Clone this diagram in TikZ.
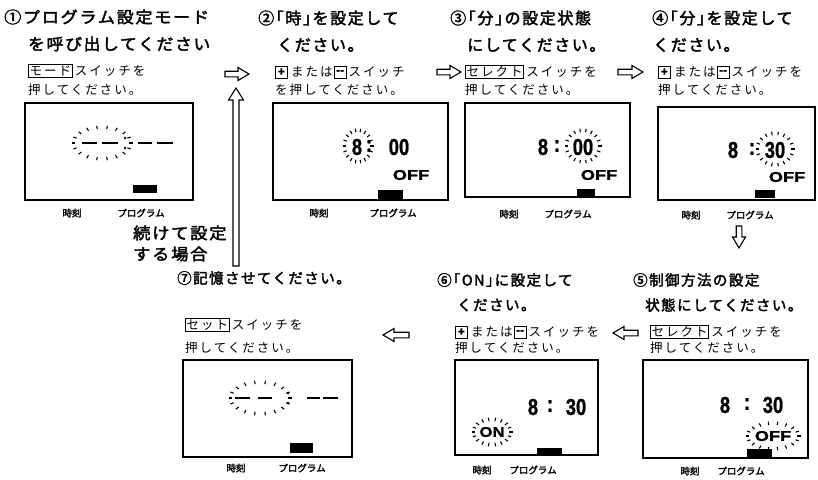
\documentclass[tikz,border=0pt]{standalone}
\usepackage{fontspec}
\usepackage{graphicx}
\usetikzlibrary{calc}
\newfontfamily\jpT[FakeBold=2.4,LetterSpace=10]{Noto Sans CJK JP}
\newfontfamily\jpS[LetterSpace=16]{Noto Sans CJK JP}
\newfontfamily\jpL[FakeBold=2.4]{Noto Sans CJK JP}
\newfontfamily\digF[FakeBold=1.2]{Liberation Sans}
\newcommand\titlefont{\jpT\fontsize{16}{18}\selectfont}
\newcommand\titlefontB{\jpT\fontsize{14.5}{16}\selectfont}
\newcommand\instrfont{\jpS\fontsize{12.5}{14}\selectfont}
\newcommand\labfont{\jpL\fontsize{9.5}{10}\selectfont}
\newcommand\digfont{\digF\bfseries\fontsize{23}{24}\selectfont}
\newcommand\offfont{\digF\bfseries\fontsize{14}{16}\selectfont}
\newcommand\dg[1]{\scalebox{0.8}[1]{#1}}
\newcommand\sparkring[4]{%
  \pgfmathsetmacro\rxo{#3+3.5}\pgfmathsetmacro\ryo{#4+3.5}%
  \foreach \a in {0,20,...,340}{\draw[spark] ($(#1,#2)+(\a:#3pt and #4pt)$) -- ($(#1,#2)+(\a:\rxo pt and \ryo pt)$);}}
\tikzset{
  title/.style={anchor=west, inner sep=0pt, font=\titlefont},
  titleB/.style={anchor=west, inner sep=0pt, font=\titlefontB},
  instr/.style={anchor=west, inner sep=0pt, font=\instrfont},
  kbox/.style={draw, line width=0.7pt, anchor=west, inner sep=1.2pt, font=\instrfont},
  pm/.style={draw, line width=0.8pt, anchor=west, inner sep=0pt, minimum size=12pt, font=\digF\bfseries\fontsize{12}{12}\selectfont},
  lab/.style={inner sep=0pt, font=\labfont},
  scr/.style={line width=1.4pt},
  bar/.style={fill=black, draw=none},
  digs/.style={inner sep=0pt, font=\digfont},
  offs/.style={inner sep=0pt, font=\offfont},
  spark/.style={line width=1.1pt},
  dashbar/.style={line width=2.4pt},
  arrowline/.style={line width=1.1pt, line join=miter, fill=white},
  pics/harrow/.style={code={
    \draw[arrowline] (0,-2.8) -- ({#1-11},-2.8) -- ({#1-11},-6.5) -- (#1,0) -- ({#1-11},6.5) -- ({#1-11},2.8) -- (0,2.8) -- cycle;}},
  pics/varrow/.style={code={
    \draw[arrowline] (0,-3) -- ({#1-12},-3) -- ({#1-12},-7.5) -- (#1,0) -- ({#1-12},7.5) -- ({#1-12},3) -- (0,3) -- cycle;}}
}
\begin{document}
\begin{tikzpicture}[x=1pt,y=-1pt]
\path[use as bounding box] (0,0) rectangle (818,479);

% ---------- Panel 1
\node[title] (t1a) at (4,17) {\scalebox{1.07}[1]{①プログラム設定モード}};
\node[title] (t1b) at (28,44) {\scalebox{1.05}[1]{を呼び出してください}};
\node[kbox] (k1) at (28,71) {モード};
\node[instr] (i1a) at ([xshift=2pt]k1.east) {スイッチを};
\node[instr] (i1b) at (28,90) {押してください。};
\draw[scr] (25,103) rectangle (193,200);
\draw[dashbar] (82,143) -- (97,143);
\draw[dashbar] (102,143) -- (118,143);
\fill (125,138) circle (1.4pt) (125,148) circle (1.4pt);
\draw[dashbar] (138,143) -- (152,143);
\draw[dashbar] (157,143) -- (173,143);
\sparkring{102}{143}{27}{14}
\fill[bar] (133,185) rectangle (157,193);
\node[lab] (l1a) at (72,213) {時刻};
\node[lab] (l1b) at (141,213) {プログラム};

% arrow 1 -> 2
\pic at (225,74) {harrow=24};
% return arrow
\pic[rotate=90] at (236,266) {varrow=178};
\node[title] (c1) at (133,233) {\scalebox{1.08}[1]{続けて設定}};
\node[title] (c2) at (133,254) {\scalebox{1.08}[1]{する場合}};

% ---------- Panel 2
\node[title] (t2a) at (258,18) {②｢時｣を設定して};
\node[title] (t2b) at (277,45) {ください。};
\node[pm] (p2) at (275,72) {+};
\node[instr] (m2) at ([xshift=3pt]p2.east) {または};
\node[pm] (n2) at ([xshift=1pt]m2.east) {--};
\node[instr] (s2) at ([xshift=2pt]n2.east) {スイッチ};
\node[instr] (i2b) at (275,90) {を押してください。};
\pic at (437,72) {harrow=24};
\draw[scr] (273,103) rectangle (448,200);
\node[digs] (d2a) at (357,147) {\dg{8}};
\node[digs] (d2c) at (369,146) {\dg{:}};
\node[digs] (d2b) at (399,147) {\dg{00}};
\sparkring{358}{146}{12}{14}
\node[offs] (o2) at (411,175) {\scalebox{1.3}[1]{OFF}};
\fill[bar] (378,190) rectangle (403,199);
\node[lab] (l2a) at (319,213) {時刻};
\node[lab] (l2b) at (393,213) {プログラム};

% ---------- Panel 3
\node[title] (t3a) at (450,18) {③｢分｣の設定状態};
\node[title] (t3b) at (467,45) {にしてください。};
\node[kbox] (k3) at (465,72) {セレクト};
\node[instr] (i3a) at ([xshift=2pt]k3.east) {スイッチを};
\node[instr] (i3b) at (465,90) {押してください。};
\pic at (618,72) {harrow=25};
\draw[scr] (465,103) rectangle (630,197);
\node[digs] (d3a) at (543,147) {\dg{8}};
\node[digs] (d3c) at (557,146) {\dg{:}};
\node[digs] (d3b) at (583,147) {\dg{00}};
\sparkring{583}{146}{15}{14}
\node[offs] (o3) at (599,175) {\scalebox{1.3}[1]{OFF}};
\fill[bar] (577,189) rectangle (595,197);
\node[lab] (l3a) at (509,214) {時刻};
\node[lab] (l3b) at (568,214) {プログラム};

% ---------- Panel 4
\node[title] (t4a) at (652,18) {④｢分｣を設定して};
\node[title] (t4b) at (653,45) {ください。};
\node[pm] (p4) at (658,72) {+};
\node[instr] (m4) at ([xshift=3pt]p4.east) {または};
\node[pm] (n4) at ([xshift=1pt]m4.east) {--};
\node[instr] (s4) at ([xshift=2pt]n4.east) {スイッチを};
\node[instr] (i4b) at (658,90) {押してください。};
\draw[scr] (658,107) rectangle (815,200);
\node[digs] (d4a) at (733,150) {\dg{8}};
\node[digs] (d4c) at (752,149) {\dg{:}};
\node[digs] (d4b) at (775,150) {\dg{30}};
\sparkring{775}{149}{16}{14}
\node[offs] (o4) at (787,177) {\scalebox{1.3}[1]{OFF}};
\fill[bar] (755,190) rectangle (775,198);
\node[lab] (l4a) at (691,215) {時刻};
\node[lab] (l4b) at (750,215) {プログラム};

% arrow down
\pic[rotate=-90] at (739,226) {harrow=22};

% ---------- Panel 5
\node[titleB] (t5a) at (633,280) {⑤制御方法の設定};
\node[titleB] (t5b) at (645,305) {状態にしてください。};
\node[kbox] (k5) at (650,332) {セレクト};
\node[instr] (i5a) at ([xshift=2pt]k5.east) {スイッチを};
\node[instr] (i5b) at (650,348) {押してください。};
\pic[rotate=180] at (638,333) {harrow=25};
\draw[scr] (643,360) rectangle (808,458);
\node[digs] (d5a) at (725,405) {\dg{8}};
\node[digs] (d5c) at (747,404) {\dg{:}};
\node[digs] (d5b) at (773,405) {\dg{30}};
\node[offs] (o5) at (773,436) {\scalebox{1.3}[1]{OFF}};
\sparkring{773}{436}{24}{11}
\fill[bar] (747,449) rectangle (772,458);
\node[lab] (l5a) at (690,471) {時刻};
\node[lab] (l5b) at (741,471) {プログラム};

% ---------- Panel 6
\node[titleB] (t6a) at (437,280) {⑥｢ON｣に設定して};
\node[titleB] (t6b) at (457,305) {ください。};
\node[pm] (p6) at (455,332) {+};
\node[instr] (m6) at ([xshift=3pt]p6.east) {または};
\node[pm] (n6) at ([xshift=1pt]m6.east) {--};
\node[instr] (s6) at ([xshift=2pt]n6.east) {スイッチを};
\node[instr] (i6b) at (455,348) {押してください。};
\pic[rotate=180] at (409,335) {harrow=26};
\draw[scr] (455,360) rectangle (598,455);
\node[digs] (d6a) at (533,407) {\dg{8}};
\node[digs] (d6c) at (550,406) {\dg{:}};
\node[digs] (d6b) at (576,407) {\dg{30}};
\node[offs] (o6) at (492,432) {\scalebox{1.2}[1]{ON}};
\sparkring{492}{432}{17}{11}
\fill[bar] (537,448) rectangle (562,456);
\node[lab] (l6a) at (482,470) {時刻};
\node[lab] (l6b) at (533,470) {プログラム};

% ---------- Panel 7
\node[titleB] (t7a) at (177,278) {⑦記憶させてください。};
\node[kbox] (k7) at (185,325) {セット};
\node[instr] (i7a) at ([xshift=2pt]k7.east) {スイッチを};
\node[instr] (i7b) at (185,348) {押してください。};
\draw[scr] (183,360) rectangle (352,457);
\draw[dashbar] (235,398) -- (250,398);
\draw[dashbar] (258,398) -- (272,398);
\fill (288,393) circle (1.4pt) (288,403) circle (1.4pt);
\draw[dashbar] (307,398) -- (320,398);
\draw[dashbar] (323,398) -- (338,398);
\sparkring{260}{398}{28}{14}
\fill[bar] (290,443) rectangle (313,453);
\node[lab] (l7a) at (236,468) {時刻};
\node[lab] (l7b) at (302,468) {プログラム};
\end{tikzpicture}
\end{document}
